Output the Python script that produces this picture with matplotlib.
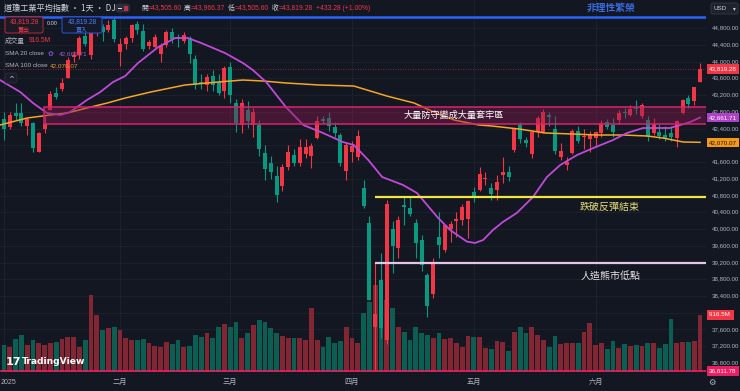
import numpy as np
import matplotlib.pyplot as plt
from matplotlib.patches import Rectangle, FancyBboxPatch
from matplotlib.transforms import Affine2D, blended_transform_factory

plt.rcParams['font.family'] = ['Noto Sans CJK TC', 'DejaVu Sans']
NUM = ['Liberation Sans', 'Noto Sans CJK TC', 'DejaVu Sans']

# ---- data (DJI daily, Jan 2 - Jun 27 2025) ----
dates = (
    ['2025-01-%02d' % d for d in [2, 3, 6, 7, 8, 10, 13, 14, 15, 16, 17, 21, 22, 23, 24, 27, 28, 29, 30, 31]] +
    ['2025-02-%02d' % d for d in [3, 4, 5, 6, 7, 10, 11, 12, 13, 14, 18, 19, 20, 21, 24, 25, 26, 27, 28]] +
    ['2025-03-%02d' % d for d in [3, 4, 5, 6, 7, 10, 11, 12, 13, 14, 17, 18, 19, 20, 21, 24, 25, 26, 27, 28, 31]] +
    ['2025-04-%02d' % d for d in [1, 2, 3, 4, 7, 8, 9, 10, 11, 14, 15, 16, 17, 21, 22, 23, 24, 25, 28, 29, 30]] +
    ['2025-05-%02d' % d for d in [1, 2, 5, 6, 7, 8, 9, 12, 13, 14, 15, 16, 19, 20, 21, 22, 23, 27, 28, 29, 30]] +
    ['2025-06-%02d' % d for d in [2, 3, 4, 5, 6, 9, 10, 11, 12, 13, 16, 17, 18, 20, 23, 24, 25, 26, 27]]
)

opens = [
    42620, 42430, 42780, 42770, 42450, 42530, 41850, 42400, 42850, 43250, 43350, 43600, 44100, 44150, 44620, 44150, 44710, 44830, 44750, 45000,
    44230, 44430, 44560, 44900, 44740, 44370, 44350, 44180, 44400, 44700, 44580, 44480, 44560, 44050, 43520, 43450, 43650, 43500, 43300,
    43870, 43010, 42480, 42840, 42480, 42480, 41815, 41580, 41265, 41030, 41480, 41767, 41580, 41780, 41745, 42180, 42620, 42650, 42435, 42245, 41380,
    41850, 41730, 40980, 40150, 37650, 38780, 37350, 40000, 39550, 40580, 40500, 40150, 39740, 38900, 38450, 39800, 39500, 40000, 40180, 40220, 40250,
    40880, 40930, 41200, 40980, 40930, 41290, 41360, 41890, 42484, 42125, 41800, 42320, 42320, 42720, 42380, 41720, 41530, 41815, 42340, 42190, 42150,
    42170, 42290, 42555, 42484, 42600, 42790, 42722, 42900, 42700, 42600, 42290, 42320, 42250, 42290, 42170, 42770, 43130, 43060, 43505.60,
]
highs = [
    42800, 42790, 43000, 43020, 42660, 42560, 42320, 42700, 43300, 43380, 43600, 44100, 44250, 44600, 44720, 44780, 44900, 44900, 45000, 45054,
    44550, 44600, 44900, 44960, 44900, 44520, 44650, 44450, 44750, 44800, 44650, 44700, 44620, 44150, 43700, 43700, 43800, 43700, 43900,
    43990, 43100, 43100, 43050, 42900, 42600, 42000, 41750, 41500, 41550, 42000, 41900, 42150, 42150, 42050, 42700, 42700, 42800, 42550, 42300, 42050,
    42100, 42360, 41170, 40300, 39190, 39430, 40700, 40200, 40300, 40800, 40800, 40250, 39850, 38950, 39300, 40400, 40100, 40200, 40400, 40600, 40700,
    41000, 41480, 41350, 41100, 41300, 41720, 41500, 42420, 42550, 42200, 42350, 42700, 42866, 42800, 42700, 42050, 41720, 42400, 42450, 42400, 42350,
    42350, 42600, 42620, 42650, 42850, 42900, 42950, 43080, 43000, 42700, 42650, 42500, 42450, 42450, 42600, 43100, 43200, 43400, 43966.37,
]
lows = [
    42130, 42400, 42600, 42450, 42250, 41840, 41840, 42300, 42850, 43100, 43300, 43600, 43980, 44050, 44380, 44050, 44600, 44480, 44700, 44470,
    43900, 44300, 44470, 44650, 44250, 44300, 44330, 44000, 44350, 44450, 44350, 44450, 43960, 43350, 43350, 43300, 43300, 43200, 43130,
    43000, 42320, 42300, 42410, 42200, 41750, 41170, 41200, 40645, 40900, 41400, 41500, 41500, 41700, 41450, 42150, 42500, 42350, 42200, 41500, 41170,
    41600, 41650, 40500, 38300, 36611.78, 37400, 37250, 38950, 39300, 40100, 40300, 39300, 39000, 37900, 38350, 39300, 39450, 39700, 39800, 40100, 39790,
    40650, 40900, 41050, 40700, 40700, 41100, 41150, 41850, 42050, 41950, 41700, 42200, 42300, 42450, 41800, 41650, 41400, 41800, 42050, 41900, 41850,
    41950, 42200, 42380, 42200, 42500, 42650, 42700, 42750, 42650, 42100, 42250, 42150, 42100, 42100, 41950, 42750, 42900, 42950, 43505.60,
]
closes = [
    42392, 42732, 42706, 42528, 42635, 41938, 42297, 42518, 43221, 43153, 43487, 44025, 44156, 44565, 44424, 44713, 44850, 44713, 44882, 44544,
    44421, 44556, 44873, 44747, 44303, 44470, 44593, 44368, 44711, 44546, 44556, 44627, 44176, 43428, 43461, 43621, 43433, 43239, 43841,
    43191, 42520, 43006, 42579, 42801, 41911, 41433, 41350, 40813, 41488, 41841, 41581, 41964, 41953, 41985, 42583, 42587, 42455, 42300, 41584, 42002,
    41989, 42226, 40546, 38315, 37966, 37646, 40608, 39594, 40213, 40525, 40368, 39669, 39142, 38170, 39187, 39607, 40093, 40114, 40228, 40528, 40669,
    40753, 41317, 41219, 40829, 41114, 41368, 41249, 42410, 42141, 42051, 42323, 42655, 42792, 42677, 41860, 41859, 41603, 42343, 42098, 42216, 42270,
    42305, 42520, 42428, 42320, 42763, 42762, 42867, 42866, 42968, 42198, 42515, 42215, 42172, 42207, 42582, 43089, 42982, 43386, 43819.28,
]
# volume in millions
volumes = [
    434, 402, 531, 595, 434, 515, 466, 434, 466, 482, 531, 563, 563, 402, 515, 1238, 917, 675, 708, 724,
    675, 547, 515, 515, 531, 466, 418, 402, 482, 450, 515, 402, 418, 595, 563, 627, 547, 724, 772,
    724, 804, 547, 627, 756, 836, 804, 708, 627, 579, 547, 547, 547, 515, 1029, 515, 402, 563, 466, 498, 724,
    547, 466, 949, 1126, 1399, 1158, 1158, 1029, 724, 643, 515, 724, 627, 595, 547, 627, 531, 547, 466, 402, 579,
    563, 563, 386, 370, 498, 482, 338, 643, 724, 627, 724, 595, 515, 402, 579, 450, 466, 466, 466, 643, 788,
    434, 466, 370, 498, 386, 450, 418, 434, 418, 466, 466, 386, 450, 852, 466, 482, 482, 498, 916.5,
]

# moving averages, read as points along the drawn lines (bar position, value)
sma20_pos = [-0.7, 2.8, 5.0, 7.4, 9.7, 11.4, 14.3, 16.6, 18.8, 20.9, 23.1, 26.6, 29.5, 31.7, 34.0, 38.1, 41.2,
             42.9, 45.2, 48.6, 51.6, 55.0, 58.4, 60.3, 62.8, 65.2, 68.8, 71.2, 74.7, 76.9, 79.8, 81.2, 82.6,
             84.3, 86.0, 88.4, 91.2, 93.6, 95.9, 98.8, 101.6, 105.0, 107.4, 110.2, 112.6, 114.8, 116.6, 118.3, 120.0]
sma20_val = [43558, 43272, 43009, 42770, 42722, 42794, 43081, 43272, 43510, 43654, 43964, 44346, 44561, 44561, 44442,
             44203, 43964, 43797, 43510, 42913, 42484, 42293, 42078, 42006, 41648, 41242, 41051, 40860, 40287, 39976,
             39700, 39666, 39737, 39976, 40167, 40382, 40764, 41242, 41528, 41767, 41934, 42125, 42293, 42412, 42412,
             42412, 42484, 42555, 42661.71]
sma100_pos = [-0.7, 4.0, 7.9, 10.9, 14.3, 17.8, 20.9, 25.3, 31.2, 36.9, 41.2, 44.7, 48.6, 54.3, 60.3, 62.6,
              66.0, 70.7, 74.1, 77.6, 81.9, 84.1, 88.8, 93.3, 97.9, 102.2, 106.7, 110.9, 113.6, 117.1, 120.0]
sma100_val = [42484, 42651, 42722, 42770, 42890, 43009, 43128, 43272, 43439, 43510, 43558, 43534, 43487, 43439,
              43415, 43319, 43176, 43009, 42794, 42603, 42484, 42460, 42388, 42293, 42269, 42245, 42245, 42221,
              42173, 42078, 42070.07]

# drawn levels
exuberance_level = 45070
trap_zone = (42500, 42921)
rebound_level = 40757
bear_low_level = 39181
apr7_low = 36611.78
month_labels = ['2025', '二月', '三月', '四月', '五月', '六月']

# ---- style ----
W, H = 740, 391
BG = '#131722'
GRID = '#1d212c'
AXT = '#b2b5be'
UP, DN = '#f23645', '#089981'
UPV, DNV = '#822633', '#0d5e52'
SMA20C, SMA100C = '#c04ad8', '#f5a623'

fig = plt.figure(figsize=(W / 100, H / 100), dpi=100, facecolor=BG)
rect = [0, 19 / H, 706 / W, 372 / H]
ax_vol = fig.add_axes(rect)
ax = fig.add_axes(rect, sharex=ax_vol)
for a in (ax_vol, ax):
    a.set_axis_off()

ax.set_xlim(-0.69, 121.03)
ax.set_ylim(36585, 45469)
ax_vol.set_ylim(0, 916.5 * 372 / 57)

pix = Affine2D().scale(1 / W, -1 / H).translate(0, 1) + fig.transFigure
price_y = blended_transform_factory(pix, ax.transData)
vol_y = blended_transform_factory(pix, ax_vol.transData)
bar_x = blended_transform_factory(ax.transData, pix)

x = np.arange(len(dates))
o, h, l, c = (np.array(v, float) for v in (opens, highs, lows, closes))
up = c >= o

# grid
grid_prices = np.arange(36800, 44801, 400)
ax_vol.hlines(grid_prices, 0, 1, transform=blended_transform_factory(ax_vol.transAxes, ax.transData),
              colors=GRID, lw=0.7, zorder=0)
months = [d[5:7] for d in dates]
month_starts = [i for i in range(len(dates)) if i == 0 or months[i] != months[i - 1]]
for i in month_starts:
    ax_vol.axvline(i, color=GRID, lw=0.7, zorder=0)

# volume
ax_vol.bar(x, volumes, width=0.82, color=np.where(up, UPV, DNV), zorder=1)

# candles
cols = np.where(up, UP, DN)
ax.vlines(x, l, h, colors=cols, lw=0.8, zorder=3)
ax.bar(x, np.maximum(np.abs(c - o), 25), bottom=np.minimum(o, c), width=0.68, color=cols, zorder=3)

# moving averages
ax.plot(sma100_pos, sma100_val, color=SMA100C, lw=1.1, zorder=4)
ax.plot(sma20_pos, sma20_val, color=SMA20C, lw=1.3, zorder=4)

# drawings
ax.axhline(exuberance_level, color='#2962ff', lw=1.8, zorder=5)
ax.add_patch(Rectangle((6.9, trap_zone[0]), 200, trap_zone[1] - trap_zone[0],
                       facecolor='#8a1a4e', alpha=0.42, edgecolor='none', zorder=4.5))
ax.add_patch(Rectangle((6.9, trap_zone[0]), 200, trap_zone[1] - trap_zone[0],
                       facecolor='none', edgecolor='#d6246e', lw=1.1, zorder=5))
ax.hlines(rebound_level, 64, 125, color='#f2e640', lw=1.6, zorder=5)
ax.hlines(bear_low_level, 64, 125, color='#e3c6e6', lw=1.6, zorder=5)
ax.axhline(apr7_low, color='#e91e63', lw=1.2, zorder=5)
ax.axhline(closes[-1], color=UP, lw=0.6, ls=(0, (1, 2)), alpha=0.7, zorder=2)

ax.text(77.5, 42712, '大量防守變成大量套牢區', color='white', fontsize=6.6, ha='center', va='center', zorder=6)
fig.text(580, 207, '跌破反彈結束', transform=pix, color='#e6dd78', fontsize=7.2, va='center')
fig.text(581, 276, '人造熊市低點', transform=pix, color='#e6e6e6', fontsize=7.2, va='center')
fig.text(611, 8, '非理性繁榮', transform=pix, color='#3b6be0', fontsize=7.0, ha='center', va='center',
         fontweight='bold')

# ---- right price scale ----
for p in grid_prices:
    if p in (42000, 38000):
        continue
    fig.text(712, p, f'{p:,.2f}', transform=price_y, color=AXT, fontsize=4.4, family=NUM, va='center')


def tag(trans, val, s, bg, fg='white'):
    fig.text(709, val, s, transform=trans, color=fg, fontsize=4.5, family=NUM, va='center',
             bbox=dict(boxstyle='square,pad=0.35', fc=bg, ec='none'))


tag(price_y, closes[-1], f'{closes[-1]:,.2f}', '#f23645')
tag(price_y, sma20_val[-1], f'{sma20_val[-1]:,.2f}', '#b040c8')
tag(price_y, sma100_val[-1], f'{sma100_val[-1]:,.2f}', '#f59a12', '#131722')
tag(vol_y, volumes[-1], f'{volumes[-1]}M ', '#f23645')
tag(price_y, apr7_low, f'{apr7_low:,.2f}', '#e91e63')

fig.add_artist(FancyBboxPatch((711, 3), 27, 11, boxstyle='round,pad=0,rounding_size=2', transform=pix,
                              fc='#1e222d', ec='#363a45', lw=0.6))
fig.text(713, 8.5, 'USD', transform=pix, color='#d1d4dc', fontsize=4.5, family=NUM, va='center')
fig.text(733, 8.5, '▾', transform=pix, color='#d1d4dc', fontsize=4, va='center', family='DejaVu Sans')

# ---- bottom time scale ----
for i, lab in zip(month_starts, month_labels):
    if i == 0:
        fig.text(1, 382, lab, transform=pix, color=AXT, fontsize=5.0, ha='left', va='center', family=NUM)
    else:
        fig.text(i, 382, lab, transform=bar_x, color=AXT, fontsize=5.2, ha='center', va='center')
fig.text(712, 382, '⚙', transform=pix, color=AXT, fontsize=6, ha='center', va='center', family='DejaVu Sans')

# ---- legend / header overlay ----
fig.text(4, 8, '道瓊工業平均指數 · 1天 · DJ', transform=pix, color='#d1d4dc', fontsize=5.9, va='center')
fig.add_artist(FancyBboxPatch((115, 3.5), 15, 9, boxstyle='round,pad=0,rounding_size=4', transform=pix,
                              fc='#2a2e39', ec='none'))
fig.add_artist(Rectangle((117.5, 7.5), 4, 1, transform=pix, fc='#d1d4dc', ec='none'))
fig.add_artist(Rectangle((124, 5.5), 4, 5, transform=pix, fc='#b8314a', ec='none'))

header = [('開', opens[-1], 141), ('高', highs[-1], 184), ('低', lows[-1], 228), ('收', closes[-1], 272)]
for lab, val, xp in header:
    fig.text(xp, 8, lab, transform=pix, color='#d1d4dc', fontsize=4.9, va='center')
    fig.text(xp + 6.5, 8, f'={val:,.2f}', transform=pix, color=UP, fontsize=4.9, family=NUM, va='center')
chg = closes[-1] - closes[-2]
fig.text(316, 8, f'+{chg:,.2f} (+{chg / closes[-2] * 100:.2f}%)', transform=pix, color=UP, fontsize=4.9,
         family=NUM, va='center')

fig.add_artist(FancyBboxPatch((5, 17), 38, 16, boxstyle='round,pad=0,rounding_size=2', transform=pix,
                              fc='#1a1b24', ec='#b8283c', lw=0.7))
fig.text(24, 21.5, f'{closes[-1]:,.2f}', transform=pix, color=UP, fontsize=4.8, family=NUM, ha='center', va='center')
fig.text(24, 29, '賣出', transform=pix, color=UP, fontsize=4.3, ha='center', va='center')
fig.text(52, 23.5, '0.00', transform=pix, color='#d1d4dc', fontsize=4.0, family=NUM, ha='center', va='center')
fig.add_artist(FancyBboxPatch((62, 17), 40, 16, boxstyle='round,pad=0,rounding_size=2', transform=pix,
                              fc='#151a2a', ec='#2955d8', lw=0.7))
fig.text(82, 21.5, f'{closes[-1]:,.2f}', transform=pix, color='#4e7cf2', fontsize=4.8, family=NUM, ha='center', va='center')
fig.text(82, 29, '買入', transform=pix, color='#4e7cf2', fontsize=4.3, ha='center', va='center')

fig.text(5, 41, '成交量', transform=pix, color=AXT, fontsize=4.8, va='center')
fig.text(29, 41, f'{volumes[-1]}M', transform=pix, color=UP, fontsize=4.8, family=NUM, va='center')
fig.text(5, 53.5, 'SMA 20 close', transform=pix, color=AXT, fontsize=4.6, family=NUM, va='center')
fig.text(51, 53.5, '✿', transform=pix, color='#7e4fd0', fontsize=5, ha='center', va='center', family='DejaVu Sans')
fig.text(59, 53.5, f'{sma20_val[-1]:,.2f}', transform=pix, color='#a45cc8', fontsize=4.6, family=NUM, va='center')
fig.text(5, 65.5, 'SMA 100 close', transform=pix, color=AXT, fontsize=4.6, family=NUM, va='center')
fig.text(50, 65.5, f'{sma100_val[-1]:,.2f}', transform=pix, color='#e39a2a', fontsize=4.6, family=NUM, va='center')
fig.add_artist(FancyBboxPatch((5, 73), 12, 10, boxstyle='round,pad=0,rounding_size=2', transform=pix,
                              fc='#1a1e29', ec='#2a2e39', lw=0.6))
fig.text(11, 78.5, '^', transform=pix, color='#d1d4dc', fontsize=5, ha='center', va='center', family='DejaVu Sans')

# TradingView mark
fig.text(6, 362, '17', transform=pix, color='white', fontsize=8, fontweight='bold', va='center', family='DejaVu Sans')
fig.text(22, 362, 'TradingView', transform=pix, color='white', fontsize=6.6, fontweight='bold', va='center',
         family='DejaVu Sans')

fig.savefig('out.png', dpi=100, facecolor=BG)
